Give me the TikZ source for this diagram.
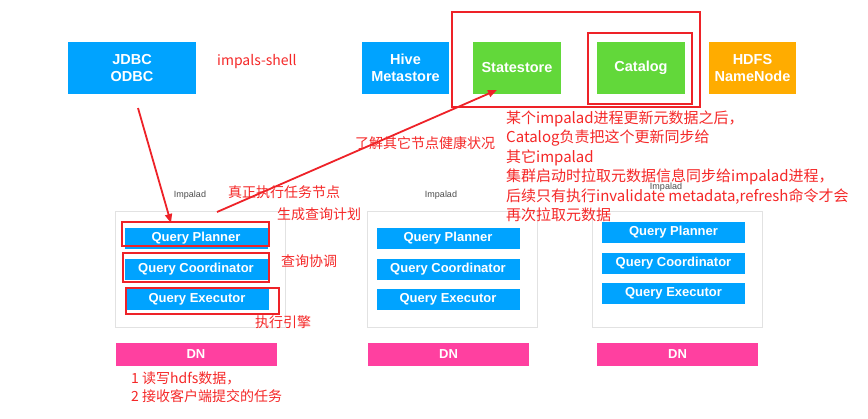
\documentclass[tikz,border=0pt]{standalone}
\usepackage{fontspec}
\setmainfont{Liberation Sans}
\newfontfamily\cjk{Noto Sans CJK SC}
\usetikzlibrary{arrows.meta}
\definecolor{cblue}{RGB}{0,163,255}
\definecolor{cgreen}{RGB}{98,216,58}
\definecolor{corange}{RGB}{255,172,0}
\definecolor{cpink}{RGB}{255,64,160}
\definecolor{cred}{RGB}{238,34,40}
\definecolor{ctxt}{RGB}{245,40,40}
\definecolor{cgray}{RGB}{226,226,226}
\tikzset{
  topbox/.style={draw=none, text=white, align=center, inner sep=0pt,
    font=\bfseries\fontsize{14.5}{17}\selectfont, minimum height=52pt},
  qbox/.style={fill=cblue, text=white, inner sep=0pt, minimum width=143pt, minimum height=21pt,
    font=\bfseries\fontsize{13}{15}\selectfont},
  dnbox/.style={fill=cpink, text=white, inner sep=0pt, minimum width=161pt, minimum height=23pt,
    font=\bfseries\fontsize{13}{15}\selectfont},
  impbox/.style={draw=cgray, line width=1pt, minimum width=170pt, minimum height=116pt, inner sep=0pt},
  implabel/.style={text=black!70, font=\fontsize{9}{10}\selectfont, inner sep=0pt},
  hl/.style={draw=cred, line width=2.5pt},
  redtxt/.style={text=ctxt, font=\cjk\fontsize{14}{17}\selectfont, anchor=base west, inner sep=0pt},
  bigtxt/.style={redtxt, font=\cjk\fontsize{15}{18}\selectfont},
  redarrow/.style={draw=cred, line width=1.8pt, -{Triangle[length=9pt,width=7pt]}}
}
\begin{document}
\begin{tikzpicture}[x=1pt,y=-1pt]
\useasboundingbox[fill=white] (0,0) rectangle (868,418);
% top row
\node[topbox, fill=cblue, minimum width=128pt] (jdbc) at (132,68) {JDBC\\ODBC};
\node[topbox, fill=cblue, minimum width=87pt] (hive) at (405.5,68) {Hive\\Metastore};
\node[topbox, fill=cgreen, minimum width=88pt] (state) at (517,68) {Statestore};
\node[topbox, fill=cgreen, minimum width=88pt] (catalog) at (641,68) {Catalog};
\node[topbox, fill=corange, minimum width=87pt] (hdfs) at (752.5,68) {HDFS\\NameNode};
\draw[hl] (452,12) rectangle (700,107);
\draw[hl] (588,33) rectangle (692,104);
% impalad boxes
\node[impbox] (imp1) at (200.5,269) {};
\node[impbox] (imp2) at (452,269) {};
\node[impbox] (imp3) at (677,269) {};
\node[implabel] (il1) at (190,195) {Impalad};
\node[implabel] (il2) at (441,195) {Impalad};
\node[implabel] (il3) at (666,187) {Impalad};
% query boxes
\node[qbox] (qp1) at (196,238.5) {Query Planner};
\node[qbox] (qc1) at (196,269.5) {Query Coordinator};
\node[qbox] (qe1) at (197,299.5) {Query Executor};
\node[qbox] (qp2) at (448,238.5) {Query Planner};
\node[qbox] (qc2) at (448,269.5) {Query Coordinator};
\node[qbox] (qe2) at (448,299.5) {Query Executor};
\node[qbox] (qp3) at (673.5,232.5) {Query Planner};
\node[qbox] (qc3) at (673.5,263) {Query Coordinator};
\node[qbox] (qe3) at (673.5,293) {Query Executor};
% highlights
\draw[hl] (122,222) rectangle (269,246);
\draw[hl] (123,253) rectangle (269,282);
\draw[hl] (126,288) rectangle (279,314);
% DN
\node[dnbox] (dn1) at (196,354.5) {DN};
\node[dnbox] (dn2) at (448.5,354.5) {DN};
\node[dnbox] (dn3) at (677.5,354.5) {DN};
% arrows
\coordinate (a1s) at (138,108);
\coordinate (a1e) at (171,223);
\coordinate (a2s) at (217,212);
\coordinate (a2e) at (497,90);
\draw[redarrow] (a1s) -- (a1e);
\draw[redarrow] (a2s) -- (a2e);
% red labels
\node[redtxt] (t1) at (217,65) {impals-shell};
\node[redtxt] (t2) at (355,148.5) {了解其它节点健康状况};
\node[redtxt] (t3) at (228,197.5) {真正执行任务节点};
\node[redtxt] (t4) at (277,219.5) {生成查询计划};
\node[redtxt] (t5) at (281,266.5) {查询协调};
\node[redtxt] (t6) at (255,327.5) {执行引擎};
\node[redtxt] (t7) at (131,383.5) {1 读写hdfs数据，};
\node[redtxt] (t8) at (131,401.5) {2 接收客户端提交的任务};
\node[bigtxt] (m1) at (506,123) {某个impalad进程更新元数据之后，};
\node[bigtxt] (m2) at (506,142.5) {Catalog负责把这个更新同步给};
\node[bigtxt] (m3) at (506,162) {其它impalad};
\node[bigtxt] (m4) at (506,181.5) {集群启动时拉取元数据信息同步给impalad进程，};
\node[bigtxt] (m5) at (506,201) {后续只有执行invalidate metadata,refresh命令才会};
\node[bigtxt] (m6) at (506,220.5) {再次拉取元数据};
\end{tikzpicture}
\end{document}
